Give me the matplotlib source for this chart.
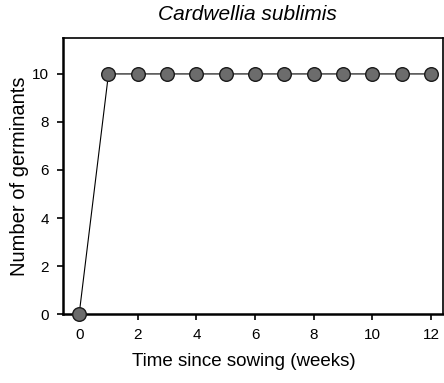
import matplotlib
matplotlib.use("Agg")
import matplotlib.pyplot as plt

weeks = [0, 1, 2, 3, 4, 5, 6, 7, 8, 9, 10, 11, 12]
germinants = [0, 10, 10, 10, 10, 10, 10, 10, 10, 10, 10, 10, 10]

plt.rcParams['font.family'] = ['Liberation Sans', 'DejaVu Sans']

fig = plt.figure(figsize=(4.44, 3.83), dpi=100)
ax = fig.add_axes([0.142, 0.180, 0.855, 0.721])

ax.plot(weeks, germinants, color='k', linewidth=0.8, marker='o', markersize=9.8,
        markerfacecolor='#6c6c6c', markeredgecolor='#1a1a1a', markeredgewidth=1.0,
        clip_on=False, zorder=3)

ax.set_xlim(-0.55, 12.4)
ax.set_ylim(0, 11.5)
ax.set_xticks(range(0, 13, 2))
ax.set_yticks(range(0, 11, 2))
ax.tick_params(direction='out', length=4, width=1.2, labelsize=11, pad=6)
for s in ax.spines.values():
    s.set_linewidth(1.2)
ax.spines['left'].set_linewidth(1.8)
ax.spines['bottom'].set_linewidth(1.8)

ax.set_xlabel('Time since sowing (weeks)', fontsize=13.5, labelpad=8)
ax.xaxis.label.set_x(0.475)
ax.set_ylabel('Number of germinants', fontsize=14.5, labelpad=2)
ax.set_title('Cardwellia sublimis', fontsize=15, style='italic', pad=13, x=0.485)

fig.savefig('out.png', dpi=100)
